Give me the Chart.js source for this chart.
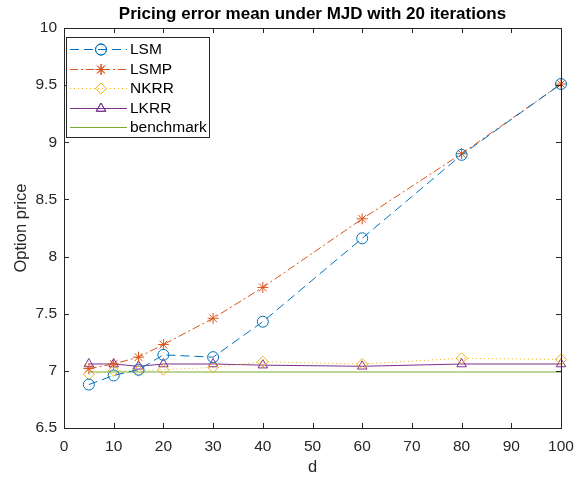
<!DOCTYPE html>
<html>
<head>
<meta charset="utf-8">
<title>Pricing error mean</title>
<script src="https://cdn.jsdelivr.net/npm/chart.js@4.4.1/dist/chart.umd.min.js"></script>
<style>
    html, body { margin: 0; padding: 0; background: #fff; }
    #wrap { width: 583px; height: 477px; }
</style>
</head>
<body>
<div id="wrap"><canvas id="errChart"></canvas></div>
<script>
// Dimensions tested and the mean option price for each method
const dims = [5, 10, 15, 20, 30, 40, 60, 80, 100];
const lsm = [6.88, 6.96, 7.01, 7.14, 7.12, 7.43, 8.16, 8.89, 9.51];
const lsmp = [7.02, 7.06, 7.12, 7.23, 7.46, 7.73, 8.33, 8.90, 9.51];
const nkrr = [6.97, 7.00, 7.00, 7.01, 7.03, 7.08, 7.06, 7.11, 7.10];
const lkrr = [7.06, 7.06, 7.04, 7.06, 7.06, 7.05, 7.04, 7.06, 7.06];
const benchmark = [6.99, 6.99, 6.99, 6.99, 6.99, 6.99, 6.99, 6.99, 6.99];

const chartTitle = 'Pricing error mean under MJD with 20 iterations';

const FONT = "'Liberation Sans', Arial, sans-serif";
const AXIS_COLOR = '#262626';

function toPoints(values) {
    return dims.map(function(d, i) { return { x: d, y: values[i] }; });
}

function series(label, values, color, dash, marker) {
    return {
        label: label,
        data: toPoints(values),
        borderColor: color,
        backgroundColor: 'rgba(0,0,0,0)',
        borderWidth: 1,
        borderDash: dash,
        pointStyle: marker || false,
        pointRadius: marker ? 5.5 : 0,
        pointBorderColor: color,
        pointBackgroundColor: 'rgba(0,0,0,0)',
        pointBorderWidth: 1,
        tension: 0,
        clip: false
    };
}

// Title centred over the plot area rather than the whole canvas
const axesTitle = {
    id: 'axesTitle',
    afterDraw(chart) {
        const ctx = chart.ctx;
        const a = chart.chartArea;
        ctx.save();
        ctx.fillStyle = '#000';
        ctx.font = 'bold 17px ' + FONT;
        ctx.textAlign = 'center';
        ctx.textBaseline = 'middle';
        ctx.fillText(chartTitle, (a.left + a.right) / 2, 14);
        ctx.restore();
    }
};

// Box around the axes with inward tick marks on all four sides
const axesFrame = {
    id: 'axesFrame',
    afterDatasetsDraw(chart) {
        const ctx = chart.ctx;
        const a = chart.chartArea;
        const xs = chart.scales.x;
        const ys = chart.scales.y;
        const len = 5;
        ctx.save();
        ctx.strokeStyle = AXIS_COLOR;
        ctx.lineWidth = 1;
        ctx.setLineDash([]);
        ctx.strokeRect(Math.round(a.left) + 0.5, Math.round(a.top) + 0.5,
            Math.round(a.right - a.left), Math.round(a.bottom - a.top));
        ctx.beginPath();
        xs.ticks.forEach(function(t) {
            const px = Math.round(xs.getPixelForValue(t.value)) + 0.5;
            ctx.moveTo(px, a.bottom); ctx.lineTo(px, a.bottom - len);
            ctx.moveTo(px, a.top); ctx.lineTo(px, a.top + len);
        });
        ys.ticks.forEach(function(t) {
            const py = Math.round(ys.getPixelForValue(t.value)) + 0.5;
            ctx.moveTo(a.left, py); ctx.lineTo(a.left + len, py);
            ctx.moveTo(a.right, py); ctx.lineTo(a.right - len, py);
        });
        ctx.stroke();
        ctx.restore();
    }
};

// Legend box in the upper left corner with line and marker samples
const boxLegend = {
    id: 'boxLegend',
    afterDraw(chart) {
        const ctx = chart.ctx;
        const bx = 66, by = 37, bw = 143, bh = 100;
        const rowY = 49, rowStep = 19.5;
        ctx.save();
        ctx.fillStyle = '#fff';
        ctx.fillRect(bx, by, bw, bh);
        ctx.strokeStyle = AXIS_COLOR;
        ctx.lineWidth = 1;
        ctx.strokeRect(bx + 0.5, by + 0.5, bw, bh);
        chart.data.datasets.forEach(function(ds, i) {
            const y = Math.round(rowY + i * rowStep) + 0.5;
            ctx.strokeStyle = ds.borderColor;
            ctx.setLineDash(ds.borderDash || []);
            ctx.beginPath();
            ctx.moveTo(70, y);
            ctx.lineTo(127, y);
            ctx.stroke();
            ctx.setLineDash([]);
            if (ds.pointStyle) {
                ctx.fillStyle = 'rgba(0,0,0,0)';
                Chart.helpers.drawPoint(ctx, {
                    pointStyle: ds.pointStyle,
                    radius: ds.pointRadius,
                    borderWidth: 1,
                    rotation: 0
                }, 101, y);
                ctx.stroke();
            }
            ctx.fillStyle = '#000';
            ctx.font = '15.5px ' + FONT;
            ctx.textAlign = 'left';
            ctx.textBaseline = 'middle';
            ctx.fillText(ds.label, 130, y);
        });
        ctx.restore();
    }
};

new Chart(document.getElementById('errChart'), {
    type: 'line',
    data: {
        datasets: [
            series('LSM', lsm, '#0072BD', [9, 5], 'circle'),
            series('LSMP', lsmp, '#D95319', [8, 3, 2, 3], 'star'),
            series('NKRR', nkrr, '#EDB120', [1, 3], 'rectRot'),
            series('LKRR', lkrr, '#7E2F8E', [], 'triangle'),
            series('benchmark', benchmark, '#77AC30', [], null)
        ]
    },
    options: {
        responsive: true,
        maintainAspectRatio: false,
        animation: false,
        devicePixelRatio: 1,
        layout: { padding: { left: 0, right: 22, top: 28, bottom: 0 } },
        plugins: {
            legend: { display: false },
            tooltip: { enabled: false },
            title: { display: false }
        },
        scales: {
            x: {
                type: 'linear',
                min: 0,
                max: 100,
                ticks: {
                    stepSize: 10,
                    color: AXIS_COLOR,
                    padding: 9,
                    maxRotation: 0,
                    font: { family: FONT, size: 15.5 }
                },
                grid: { display: false, drawTicks: false },
                border: { display: false },
                title: {
                    display: true,
                    text: 'd',
                    color: AXIS_COLOR,
                    font: { family: FONT, size: 16.5 },
                    padding: { top: 0, bottom: 0 }
                },
                afterFit: function(scale) { scale.height = 49; }
            },
            y: {
                min: 6.5,
                max: 10,
                ticks: {
                    stepSize: 0.5,
                    color: AXIS_COLOR,
                    padding: 7,
                    font: { family: FONT, size: 15.5 },
                    callback: function(v) { return String(Number(v.toFixed(1))); }
                },
                grid: { display: false, drawTicks: false },
                border: { display: false },
                title: {
                    display: true,
                    text: 'Option price',
                    color: AXIS_COLOR,
                    font: { family: FONT, size: 16.5 },
                    padding: { top: 12, bottom: 0 }
                },
                afterFit: function(scale) { scale.width = 64; }
            }
        }
    },
    plugins: [axesFrame, boxLegend, axesTitle]
});
</script>
</body>
</html>
